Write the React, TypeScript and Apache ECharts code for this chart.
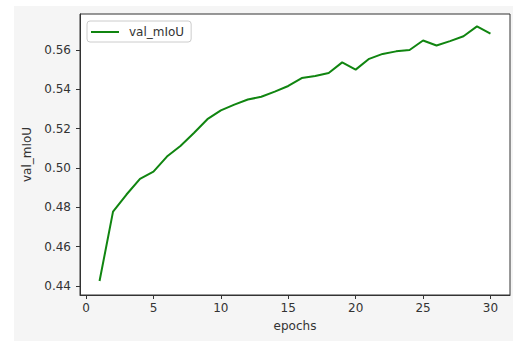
import React, { useEffect, useRef } from "react";
import * as echarts from "echarts";

const epochs = [1,2,3,4,5,6,7,8,9,10,11,12,13,14,15,16,17,18,19,20,21,22,23,24,25,26,27,28,29,30];
const valMIoU = [0.4425,0.4778,0.4865,0.4945,0.4981,0.5058,0.5112,0.5178,0.5248,0.5293,0.5322,0.5348,0.5362,0.5388,0.5417,0.5457,0.5468,0.5483,0.5537,0.5500,0.5555,0.5580,0.5593,0.5600,0.5648,0.5623,0.5645,0.5670,0.5720,0.5683];
const xTicks = [0,5,10,15,20,25,30];
const yTicks = [0.44,0.46,0.48,0.50,0.52,0.54,0.56];

const FONT = "DejaVu Sans";

export default function App() {
  const ref = useRef<HTMLDivElement>(null);
  useEffect(() => {
    if (!ref.current) return;
    const chart = echarts.init(ref.current, null, { renderer: "svg" });
    chart.setOption({
      animation: false,
      backgroundColor: "#ffffff",
      graphic: [
        {
          type: "rect",
          z: -10,
          silent: true,
          shape: { x: 14, y: 6, width: 499, height: 335 },
          style: { fill: "#f5f5f5" },
        },
      ],
      grid: {
        left: 80,
        top: 14,
        right: 3,
        bottom: 46,
        show: true,
        backgroundColor: "#ffffff",
        borderColor: "#333333",
        borderWidth: 1,
      },
      legend: {
        left: 87,
        top: 21,
        orient: "vertical",
        backgroundColor: "#ffffff",
        borderColor: "#cccccc",
        borderWidth: 1,
        borderRadius: 3,
        padding: [5, 7, 4, 4],
        icon: "rect",
        itemWidth: 28,
        itemHeight: 2,
        itemGap: 8,
        textStyle: { fontFamily: FONT, fontSize: 12, color: "#333333", padding: [0, 0, 0, 5] },
        data: ["val_mIoU"],
      },
      xAxis: {
        type: "value",
        min: -0.45,
        max: 31.45,
        name: "epochs",
        nameLocation: "middle",
        nameGap: 25,
        nameTextStyle: { fontFamily: FONT, fontSize: 12, color: "#333333" },
        axisLine: { show: true, onZero: false, lineStyle: { color: "#333333", width: 1 } },
        axisTick: { show: true, length: 4, customValues: xTicks, lineStyle: { color: "#333333" } },
        axisLabel: {
          customValues: xTicks,
          margin: 7,
          fontFamily: FONT,
          fontSize: 12,
          color: "#333333",
        },
        splitLine: { show: false },
      },
      yAxis: {
        type: "value",
        min: 0.4354,
        max: 0.5783,
        name: "val_mIoU",
        nameLocation: "middle",
        nameGap: 44,
        nameTextStyle: { fontFamily: FONT, fontSize: 12, color: "#333333" },
        axisLine: { show: true, onZero: false, lineStyle: { color: "#333333", width: 1 } },
        axisTick: { show: true, length: 4, customValues: yTicks, lineStyle: { color: "#333333" } },
        axisLabel: {
          customValues: yTicks,
          margin: 9,
          fontFamily: FONT,
          fontSize: 12,
          color: "#333333",
          formatter: (v: number) => v.toFixed(2),
        },
        splitLine: { show: false },
      },
      series: [
        {
          name: "val_mIoU",
          type: "line",
          symbol: "none",
          data: epochs.map((e, i) => [e, valMIoU[i]]),
          lineStyle: { color: "#108510", width: 2 },
          itemStyle: { color: "#108510" },
        },
      ],
    });
    return () => chart.dispose();
  }, []);
  return (
    <div
      ref={ref}
      style={{ position: "fixed", left: 0, top: 0, width: 513, height: 341 }}
    />
  );
}
